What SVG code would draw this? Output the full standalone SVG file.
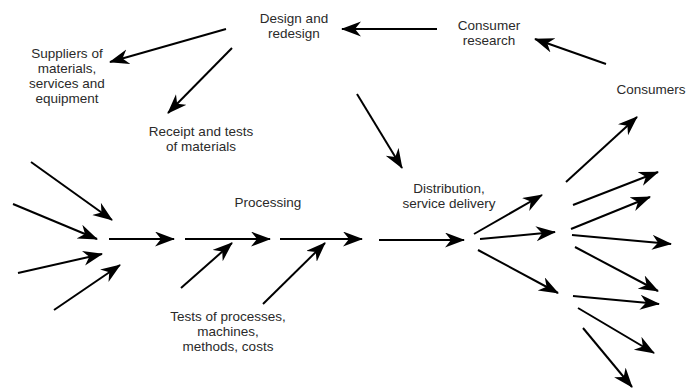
<svg xmlns="http://www.w3.org/2000/svg" width="688" height="388" viewBox="0 0 688 388">
  <style>
    .lbl { font-family: "Liberation Sans", Arial, sans-serif; font-size: 13.5px; fill: #2a2a2a; text-anchor: middle; }
    .arr { stroke: #000; stroke-width: 2; fill: none; marker-end: url(#head); }
  </style>
  <defs>
    <marker id="head" markerUnits="userSpaceOnUse" markerWidth="22" markerHeight="16" refX="19" refY="7.5" orient="auto">
      <path d="M0,0 L20,7.5 L0,15 L6,7.5 Z" fill="#000"/>
    </marker>
  </defs>
  <rect width="688" height="388" fill="#fff"/>

  <g id="design"><text class="lbl" x="294" y="23">Design and</text><text class="lbl" x="294" y="38">redesign</text></g>
  <g id="consumer-research"><text class="lbl" x="489" y="30">Consumer</text><text class="lbl" x="489" y="45">research</text></g>
  <g id="consumers"><text class="lbl" x="651" y="94">Consumers</text></g>
  <g id="suppliers"><text class="lbl" x="67" y="58">Suppliers of</text><text class="lbl" x="67" y="73">materials,</text><text class="lbl" x="67" y="88">services and</text><text class="lbl" x="67" y="103">equipment</text></g>
  <g id="receipt"><text class="lbl" x="201" y="136">Receipt and tests</text><text class="lbl" x="201" y="151">of materials</text></g>
  <g id="processing"><text class="lbl" x="268" y="207">Processing</text></g>
  <g id="tests"><text class="lbl" x="228" y="321">Tests of processes,</text><text class="lbl" x="228" y="336">machines,</text><text class="lbl" x="228" y="351">methods, costs</text></g>
  <g id="distribution"><text class="lbl" x="449" y="193">Distribution,</text><text class="lbl" x="449" y="208">service delivery</text></g>

  <g id="connectors">
    <line class="arr" x1="437" y1="29" x2="342" y2="29"/>
    <line class="arr" x1="226" y1="29" x2="110" y2="62"/>
    <line class="arr" x1="232" y1="48" x2="168" y2="113"/>
    <line class="arr" x1="606" y1="64" x2="535" y2="39"/>
    <line class="arr" x1="357" y1="94" x2="402" y2="168"/>
    <line class="arr" x1="31" y1="162" x2="112" y2="220"/>
    <line class="arr" x1="13" y1="204" x2="97" y2="239"/>
    <line class="arr" x1="18" y1="273" x2="102" y2="254"/>
    <line class="arr" x1="54" y1="310" x2="120" y2="265"/>
    <line class="arr" x1="109" y1="239" x2="174" y2="239"/>
    <line class="arr" x1="185" y1="239" x2="270" y2="239"/>
    <line class="arr" x1="280" y1="239" x2="362" y2="239"/>
    <line class="arr" x1="379" y1="240" x2="464" y2="240"/>
    <line class="arr" x1="181" y1="288" x2="232" y2="243"/>
    <line class="arr" x1="263" y1="304" x2="325" y2="243"/>
    <line class="arr" x1="474" y1="234" x2="542" y2="195"/>
    <line class="arr" x1="480" y1="239" x2="555" y2="232"/>
    <line class="arr" x1="478" y1="250" x2="558" y2="293"/>
    <line class="arr" x1="566" y1="182" x2="637" y2="117"/>
    <line class="arr" x1="573" y1="205" x2="658" y2="172"/>
    <line class="arr" x1="571" y1="229" x2="650" y2="197"/>
    <line class="arr" x1="572" y1="235" x2="671" y2="244"/>
    <line class="arr" x1="575" y1="247" x2="658" y2="291"/>
    <line class="arr" x1="573" y1="296" x2="659" y2="304"/>
    <line class="arr" x1="578" y1="308" x2="654" y2="353"/>
    <line class="arr" x1="583" y1="328" x2="632" y2="387"/>
  </g>
</svg>
